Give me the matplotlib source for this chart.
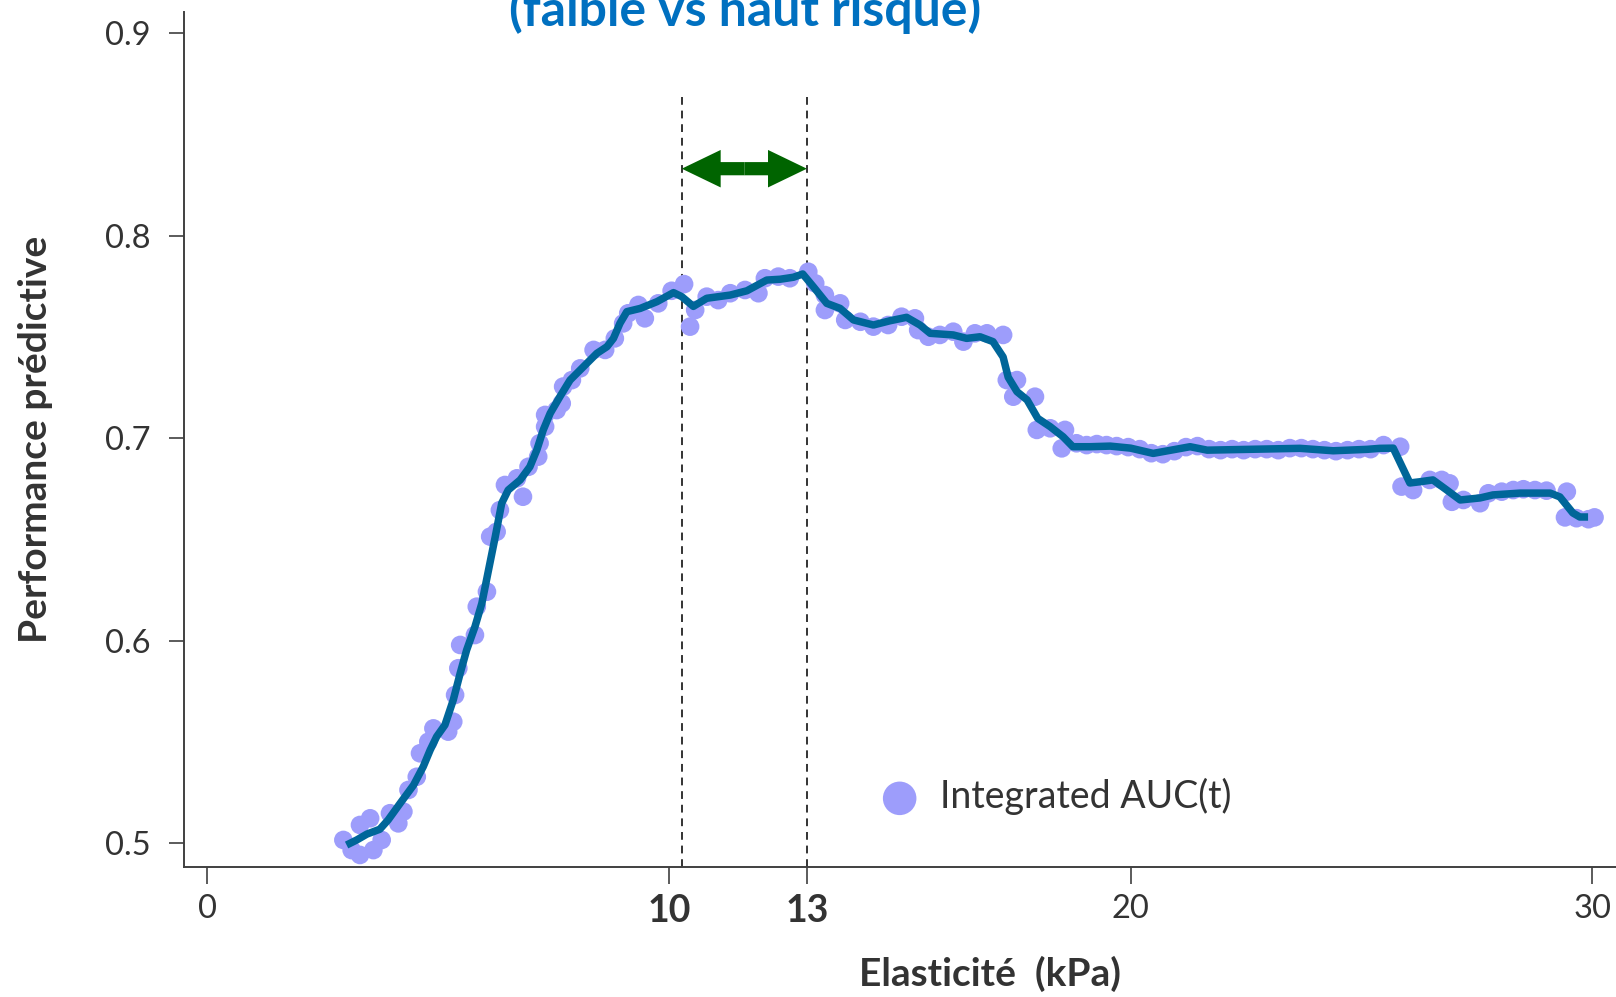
import matplotlib
matplotlib.use("Agg")
import matplotlib.pyplot as plt
from matplotlib.patches import FancyArrowPatch

# smoothed AUC curve
curve_x = [3.02, 3.24, 3.46, 3.74, 3.92, 4.18, 4.47, 4.68, 4.83, 4.97, 5.15, 5.33,
           5.48, 5.62, 5.80, 5.95, 6.08, 6.24, 6.38, 6.52, 6.78, 6.99, 7.14, 7.28,
           7.43, 7.64, 7.86, 8.15, 8.44, 8.66, 8.80, 8.94, 9.09, 9.38, 9.74, 10.10,
           10.28, 10.53, 10.82, 11.33, 11.69, 12.12, 12.41, 12.70, 12.90, 13.13, 13.42,
           13.71, 14.00, 14.43, 14.79, 15.15, 15.44, 15.66, 16.16, 16.45, 16.74, 17.02,
           17.24, 17.35, 17.54, 17.76, 17.99, 18.26, 18.54, 18.75, 19.12, 19.56, 20.00,
           20.49, 21.29, 21.66, 23.67, 24.39, 25.12, 25.40, 25.69, 26.05, 26.27, 26.55,
           26.85, 27.14, 27.57, 27.85, 28.44, 29.09, 29.30, 29.58, 29.73, 29.91]
curve_y = [0.499, 0.5015, 0.5044, 0.5068, 0.5114, 0.5196, 0.5286, 0.5377, 0.5459, 0.5525,
           0.5583, 0.5706, 0.5838, 0.5953, 0.6068, 0.6184, 0.6332, 0.6513, 0.6678, 0.6743,
           0.6793, 0.6858, 0.6941, 0.7040, 0.7122, 0.7204, 0.7286, 0.7352, 0.7418, 0.7451,
           0.7492, 0.7566, 0.7624, 0.7640, 0.7673, 0.7718, 0.7698, 0.7650, 0.7690, 0.7706,
           0.7727, 0.7780, 0.7784, 0.7794, 0.7810, 0.7747, 0.7665, 0.7640, 0.7583, 0.7558,
           0.7579, 0.7596, 0.7558, 0.7517, 0.7509, 0.7492, 0.7500, 0.7476, 0.7400, 0.7300,
           0.7229, 0.7188, 0.7097, 0.7056, 0.7006, 0.6957, 0.6957, 0.6960, 0.6950, 0.6924,
           0.6957, 0.6940, 0.6949, 0.6937, 0.6944, 0.6949, 0.6950, 0.6778, 0.6784, 0.6793,
           0.6743, 0.6694, 0.6704, 0.6719, 0.6728, 0.6728, 0.6709, 0.6630, 0.6610, 0.6610]

# integrated AUC(t) points
auc_x = [2.95, 3.13, 3.31, 3.31, 3.53, 3.60, 3.78, 3.96, 4.14, 4.25, 4.36, 4.54,
         4.61, 4.79, 4.90, 5.22, 5.33, 5.37, 5.44, 5.48, 5.80, 5.84, 6.06, 6.13,
         6.27, 6.34, 6.45, 6.71, 6.84, 6.96, 7.17, 7.20, 7.32, 7.32, 7.57, 7.68,
         7.71, 7.90, 8.08, 8.37, 8.62, 8.83, 9.01, 9.12, 9.34, 9.48, 9.77, 10.06,
         10.33, 10.46, 10.57, 10.82, 11.07, 11.33, 11.65, 11.94, 12.08, 12.37, 12.62,
         13.02, 13.17, 13.38, 13.38, 13.71, 13.82, 14.15, 14.43, 14.75, 15.04, 15.33,
         15.40, 15.62, 15.87, 16.16, 16.38, 16.63, 16.89, 17.24, 17.32, 17.54, 17.46,
         17.93, 17.97, 18.26, 18.58, 18.51, 18.83, 19.05, 19.27, 19.48, 19.70, 19.95,
         20.20, 20.45, 20.70, 20.95, 21.20, 21.45, 21.70, 21.95, 22.20, 22.45, 22.70,
         22.95, 23.20, 23.45, 23.70, 23.95, 24.20, 24.45, 24.70, 24.95, 25.20, 25.48,
         25.84, 25.87, 26.12, 26.48, 26.74, 26.91, 26.96, 27.21, 27.57, 27.75, 28.04,
         28.29, 28.51, 28.76, 29.01, 29.45, 29.41, 29.66, 29.92, 30.05]
auc_y = [0.5015, 0.4965, 0.4941, 0.5089, 0.5122, 0.4965, 0.5015, 0.5147, 0.5097, 0.5155,
         0.5262, 0.5327, 0.5443, 0.5500, 0.5566, 0.5550, 0.5599, 0.5731, 0.5863, 0.5978,
         0.6027, 0.6167, 0.6241, 0.6513, 0.6537, 0.6644, 0.6768, 0.6801, 0.6710, 0.6858,
         0.6908, 0.6974, 0.7056, 0.7114, 0.7138, 0.7171, 0.7254, 0.7286, 0.7344, 0.7435,
         0.7435, 0.7492, 0.7566, 0.7616, 0.7657, 0.7591, 0.7665, 0.7727, 0.7760, 0.7550,
         0.7632, 0.7698, 0.7681, 0.7715, 0.7731, 0.7715, 0.7789, 0.7797, 0.7789, 0.7821,
         0.7764, 0.7706, 0.7632, 0.7665, 0.7583, 0.7574, 0.7550, 0.7558, 0.7599, 0.7591,
         0.7533, 0.7500, 0.7509, 0.7525, 0.7476, 0.7517, 0.7517, 0.7509, 0.7286, 0.7286,
         0.7204, 0.7204, 0.7040, 0.7048, 0.7040, 0.6949, 0.6974, 0.6965, 0.6970, 0.6965,
         0.6960, 0.6955, 0.6945, 0.6925, 0.6920, 0.6935, 0.6955, 0.6960, 0.6945, 0.6940,
         0.6945, 0.6940, 0.6945, 0.6945, 0.6940, 0.6950, 0.6950, 0.6945, 0.6940, 0.6935,
         0.6940, 0.6945, 0.6945, 0.6965, 0.6957, 0.6760, 0.6743, 0.6793, 0.6793, 0.6776,
         0.6685, 0.6694, 0.6678, 0.6727, 0.6735, 0.6743, 0.6747, 0.6743, 0.6740, 0.6735,
         0.6608, 0.6604, 0.6599, 0.6608]

x_ticks = [0, 10, 13, 20, 30]
x_tick_labels = ["0", "10", "13", "20", "30"]
bold_ticks = ["10", "13"]
y_ticks = [0.5, 0.6, 0.7, 0.8, 0.9]
window = (10.28, 12.99)   # zone optimale (dashed lines)
arrow_y = 0.833

plt.rcParams['font.family'] = ['Lato', 'DejaVu Sans']
text_col = '#333333'

fig = plt.figure(figsize=(16.16, 9.97), dpi=100)
fig.patch.set_facecolor('white')
ax = fig.add_axes([0.1136, 0.1307, 0.8864, 0.8569])

pts = ax.scatter(auc_x, auc_y, s=180, color='#9d9dfb', edgecolors='none', zorder=2,
                 label='Integrated AUC(t)')
ax.plot(curve_x, curve_y, color='#006699', lw=5.4, solid_joinstyle='round',
        solid_capstyle='butt', zorder=3)

ax.vlines(window, 0.4883, 0.871, colors='#333333', linestyles=(0, (4, 3)), lw=1.4, zorder=1)

# double green arrow between the two thresholds
mid = (window[0] + window[1]) / 2
for end in window:
    arr = FancyArrowPatch((mid, arrow_y), (end, arrow_y),
                          arrowstyle='simple,head_length=2.8,head_width=2.7,tail_width=0.95',
                          mutation_scale=10, color='#006400', lw=0,
                          shrinkA=0, shrinkB=0, zorder=4)
    ax.add_patch(arr)

ax.set_xlim(-0.511, 30.515)
ax.set_ylim(0.4883, 0.9102)
ax.set_xticks(x_ticks)
ax.set_xticklabels(x_tick_labels)
ax.set_yticks(y_ticks)
ax.set_yticklabels([f"{v:.1f}" for v in y_ticks])

for side in ['top', 'right']:
    ax.spines[side].set_visible(False)
for side in ['left', 'bottom']:
    ax.spines[side].set_color('#404040')
    ax.spines[side].set_linewidth(1.4)
ax.tick_params(axis='y', length=11, width=1.2, color='#404040', pad=13,
               labelsize=23.5, labelcolor=text_col)
ax.tick_params(axis='x', length=12, width=1.2, color='#404040', pad=8,
               labelsize=23.5, labelcolor=text_col)

# 10 and 13 are emphasised
for lab in ax.get_xticklabels():
    if lab.get_text() in bold_ticks:
        lab.set_fontweight('bold')
        lab.set_fontsize(27)

fig.text(0.022, 0.559, 'Performance prédictive', rotation=90, ha='center', va='center',
         fontsize=28, fontweight='bold', color=text_col)
fig.text(0.6125, 0.023, 'Elasticité  (kPa)', ha='center', va='center',
         fontsize=28, fontweight='bold', color=text_col)
fig.text(0.4608, 0.9739, '(faible vs haut risque)', ha='center', va='baseline',
         fontsize=36, fontweight='bold', color='#0070c0')

ax.legend(handles=[pts], loc='center left', bbox_to_anchor=(0.5428, 0.201),
          bbox_transform=fig.transFigure, frameon=False, fontsize=27,
          markerscale=1.8, scatterpoints=1, handlelength=1.2, handletextpad=0.475,
          borderpad=0, borderaxespad=0, labelcolor=text_col)

fig.savefig('out.png', dpi=100, facecolor='white')
